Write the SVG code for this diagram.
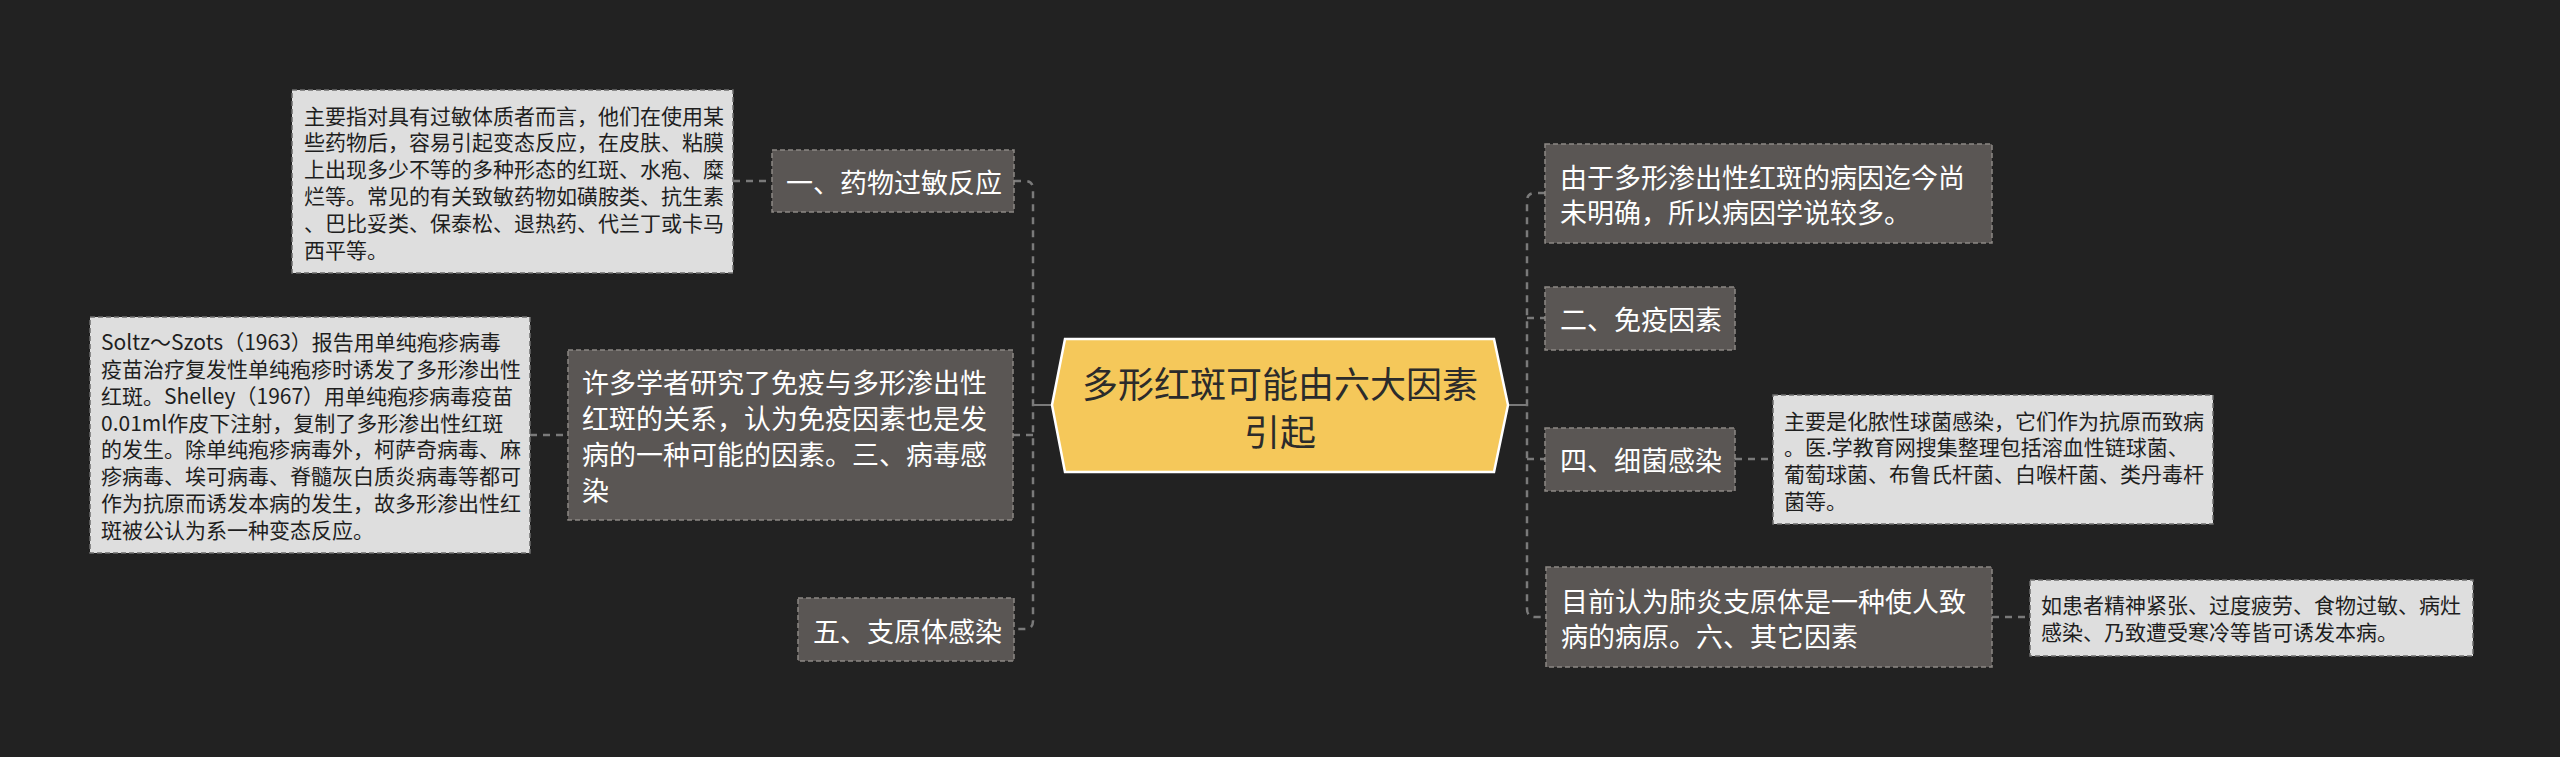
<svg xmlns="http://www.w3.org/2000/svg" width="2560" height="757" viewBox="0 0 2560 757">
<style>
text{font-family:"Noto Sans CJK SC","Noto Sans",sans-serif;dominant-baseline:central}
.dark rect{fill:#5a5654;stroke:#8c8884;stroke-width:1.5;stroke-dasharray:5 3}
.dark text{fill:#ffffff;font-size:27px}
.light rect{fill:#dedede;stroke:#6e6e6e;stroke-width:1.5;stroke-dasharray:5 3}
.light text{fill:#1e1e1e;font-size:21px}
.conn path{fill:none;stroke:#7a7a7a;stroke-width:2.5;stroke-dasharray:7 6}
.conn path.solid{stroke-dasharray:none;stroke-width:2}
</style>
<rect width="2560" height="757" fill="#222222"/>
<g id="connectors" class="conn">
<path class="solid" d="M1052,405 H1033"/>
<path d="M1014,181 H1025 Q1033,181 1033,189 V621 Q1033,629 1025,629 H1014"/>
<path d="M1013,435 H1033"/>
<path d="M733,181 H772"/>
<path d="M530,435 H568"/>
<path class="solid" d="M1508,405 H1527"/>
<path d="M1545,193 H1535 Q1527,193 1527,201 V609 Q1527,617 1535,617 H1546"/>
<path d="M1527,318 H1545"/>
<path d="M1527,459 H1545"/>
<path d="M1735,459 H1773"/>
<path d="M1992,617 H2030"/>
</g>
<g id="center">
<polygon points="1052,405 1065,339 1494,339 1508,405 1494,472 1065,472" fill="#f5c85a" stroke="#ffffff" stroke-width="2.5"/>
<text x="1280" y="382" text-anchor="middle" font-size="36" fill="#2b2b2b">多形红斑可能由六大因素</text>
<text x="1280" y="430" text-anchor="middle" font-size="36" fill="#2b2b2b">引起</text>
</g>
<g id="node-drug" class="dark">
<rect x="772" y="150" width="242" height="62"/>
<text x="786" y="181">一、药物过敏反应</text>
</g>
<g id="node-drug-detail" class="light">
<rect x="292" y="90" width="441" height="183"/>
<text x="304" y="114.5">主要指对具有过敏体质者而言，他们在使用某</text>
<text x="304" y="141.3">些药物后，容易引起变态反应，在皮肤、粘膜</text>
<text x="304" y="168">上出现多少不等的多种形态的红斑、水疱、糜</text>
<text x="304" y="195">烂等。常见的有关致敏药物如磺胺类、抗生素</text>
<text x="304" y="222">、巴比妥类、保泰松、退热药、代兰丁或卡马</text>
<text x="304" y="248.5">西平等。</text>
</g>
<g id="node-virus" class="dark">
<rect x="568" y="350" width="445" height="170"/>
<text x="582" y="381">许多学者研究了免疫与多形渗出性</text>
<text x="582" y="417">红斑的关系，认为免疫因素也是发</text>
<text x="582" y="453">病的一种可能的因素。三、病毒感</text>
<text x="582" y="489">染</text>
</g>
<g id="node-virus-detail" class="light">
<rect x="90" y="317" width="440" height="236"/>
<text x="101" y="341">Soltz～Szots（1963）报告用单纯疱疹病毒</text>
<text x="101" y="368">疫苗治疗复发性单纯疱疹时诱发了多形渗出性</text>
<text x="101" y="395">红斑。Shelley（1967）用单纯疱疹病毒疫苗</text>
<text x="101" y="422">0.01ml作皮下注射，复制了多形渗出性红斑</text>
<text x="101" y="448">的发生。除单纯疱疹病毒外，柯萨奇病毒、麻</text>
<text x="101" y="475">疹病毒、埃可病毒、脊髓灰白质炎病毒等都可</text>
<text x="101" y="502">作为抗原而诱发本病的发生，故多形渗出性红</text>
<text x="101" y="529">斑被公认为系一种变态反应。</text>
</g>
<g id="node-mycoplasma" class="dark">
<rect x="798" y="598" width="216" height="63"/>
<text x="813" y="630">五、支原体感染</text>
</g>
<g id="node-cause" class="dark">
<rect x="1545" y="144" width="447" height="99"/>
<text x="1560" y="176">由于多形渗出性红斑的病因迄今尚</text>
<text x="1560" y="211">未明确，所以病因学说较多。</text>
</g>
<g id="node-immune" class="dark">
<rect x="1545" y="287" width="190" height="63"/>
<text x="1560" y="318">二、免疫因素</text>
</g>
<g id="node-bacteria" class="dark">
<rect x="1545" y="428" width="190" height="63"/>
<text x="1560" y="459">四、细菌感染</text>
</g>
<g id="node-bacteria-detail" class="light">
<rect x="1773" y="395" width="440" height="129"/>
<text x="1784" y="419.5">主要是化脓性球菌感染，它们作为抗原而致病</text>
<text x="1784" y="446">。医.学教育网搜集整理包括溶血性链球菌、</text>
<text x="1784" y="473">葡萄球菌、布鲁氏杆菌、白喉杆菌、类丹毒杆</text>
<text x="1784" y="500">菌等。</text>
</g>
<g id="node-other" class="dark">
<rect x="1546" y="567" width="446" height="100"/>
<text x="1561" y="600">目前认为肺炎支原体是一种使人致</text>
<text x="1561" y="635">病的病原。六、其它因素</text>
</g>
<g id="node-other-detail" class="light">
<rect x="2030" y="580" width="443" height="76"/>
<text x="2041" y="604">如患者精神紧张、过度疲劳、食物过敏、病灶</text>
<text x="2041" y="631">感染、乃致遭受寒冷等皆可诱发本病。</text>
</g>
</svg>
